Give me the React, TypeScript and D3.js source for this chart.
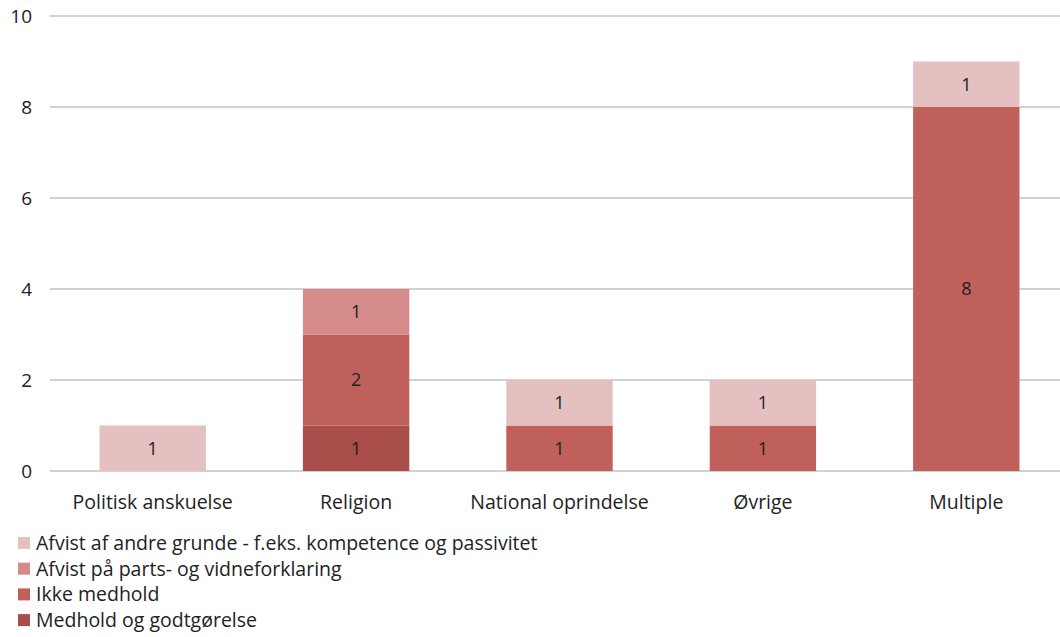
import React from "react";
import * as d3 from "d3";

const categories = ["Politisk anskuelse", "Religion", "National oprindelse", "Øvrige", "Multiple"];
const seriesNames = [
  "Medhold og godtgørelse",
  "Ikke medhold",
  "Afvist på parts- og vidneforklaring",
  "Afvist af andre grunde - f.eks. kompetence og passivitet",
];
const medhold = [0, 1, 0, 0, 0];
const ikkeMedhold = [0, 2, 1, 1, 8];
const afvistParts = [0, 1, 0, 0, 0];
const afvistAndre = [1, 0, 1, 1, 1];
const seriesColors = ["#a94d4a", "#c0605b", "#d48b89", "#e4c0c0"];
const yTicks = [0, 2, 4, 6, 8, 10];

const W = 1060;
const H = 637;
const FONT = "'Open Sans', Lato, sans-serif";

export default function App() {
  const values = [medhold, ikkeMedhold, afvistParts, afvistAndre];
  const rows = categories.map((c, i) => {
    const r: any = { cat: c };
    seriesNames.forEach((s, k) => (r[s] = values[k][i]));
    return r;
  });
  const stack = d3.stack<any>().keys(seriesNames)(rows);
  const x = d3.scaleBand().domain(categories).range([51, 1068]).paddingInner(0.477).paddingOuter(0.2385);
  const y = d3.scaleLinear().domain([0, 10]).range([471, 16]);
  const legendOrder = [3, 2, 1, 0];
  return (
    <svg width={W} height={H} style={{ position: "absolute", left: 0, top: 0, background: "#fff" }} fontFamily={FONT}>
      <rect width={W} height={H} fill="#fff" />
      {yTicks.map((t) => (
        <g key={t}>
          <line x1={50} x2={W} y1={y(t)} y2={y(t)} stroke="#a6a6a6" strokeWidth={1.2} />
          <text x={32} y={y(t)} dy="0.35em" textAnchor="end" fontSize={19} fill="#222">
            {t}
          </text>
        </g>
      ))}
      {stack.map((s, k) =>
        s.map((d, i) => {
          const v = d[1] - d[0];
          if (v <= 0) return null;
          const bx = x(categories[i])!;
          return (
            <g key={k + "-" + i}>
              <rect x={bx} width={x.bandwidth()} y={y(d[1])} height={y(d[0]) - y(d[1])} fill={seriesColors[k]} />
              <text
                x={bx + x.bandwidth() / 2}
                y={(y(d[0]) + y(d[1])) / 2}
                dy="0.35em"
                textAnchor="middle"
                fontSize={18}
                fill="#222"
              >
                {v}
              </text>
            </g>
          );
        })
      )}
      {categories.map((c) => (
        <text key={c} x={x(c)! + x.bandwidth() / 2} y={502} dy="0.35em" textAnchor="middle" fontSize={19.5} fill="#222">
          {c}
        </text>
      ))}
      {legendOrder.map((k, j) => (
        <g key={k} transform={`translate(18, ${543 + j * 25.7})`}>
          <rect x={0} y={-6} width={12} height={12} fill={seriesColors[k]} />
          <text x={18} y={0} dy="0.35em" fontSize={19.5} fill="#222">
            {seriesNames[k]}
          </text>
        </g>
      ))}
    </svg>
  );
}
